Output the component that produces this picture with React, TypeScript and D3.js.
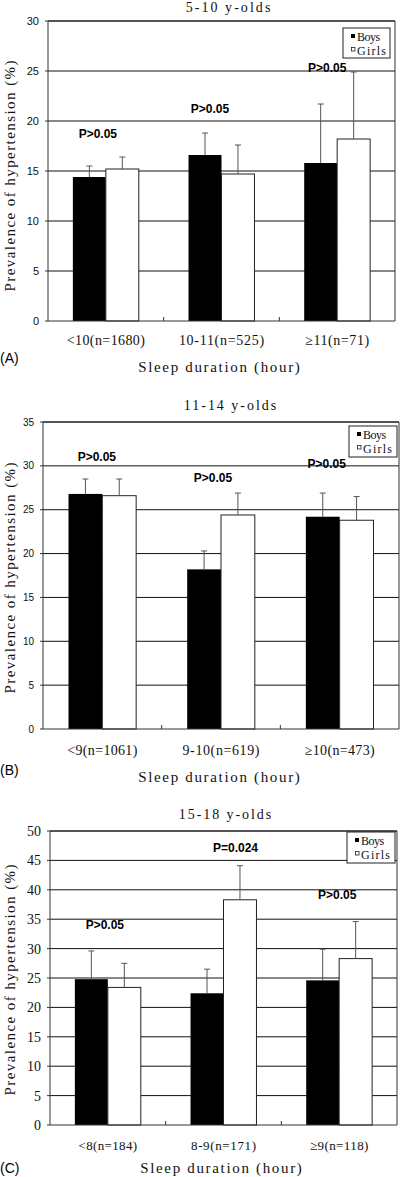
import React from "react";
import * as d3 from "d3";

// ---- Data ----
const titles = ["5-10 y-olds", "11-14 y-olds", "15-18 y-olds"];
const panelLetters = ["(A)", "(B)", "(C)"];
const seriesNames = ["Boys", "Girls"];

const categoriesA = ["<10(n=1680)", "10-11(n=525)", "≥11(n=71)"];
const boysA = [14.4, 16.6, 15.8];
const boysUpperA = [15.5, 18.8, 21.7];
const girlsA = [15.2, 14.7, 18.2];
const girlsUpperA = [16.4, 17.6, 24.9];
const pLabelsA = ["P>0.05", "P>0.05", "P>0.05"];
const yTicksA = [0, 5, 10, 15, 20, 25, 30];

const categoriesB = ["<9(n=1061)", "9-10(n=619)", "≥10(n=473)"];
const boysB = [26.8, 18.2, 24.2];
const boysUpperB = [28.5, 20.3, 26.9];
const girlsB = [26.6, 24.4, 23.8];
const girlsUpperB = [28.5, 26.9, 26.5];
const pLabelsB = ["P>0.05", "P>0.05", "P>0.05"];
const yTicksB = [0, 5, 10, 15, 20, 25, 30, 35];

const categoriesC = ["<8(n=184)", "8-9(n=171)", "≥9(n=118)"];
const boysC = [24.8, 22.4, 24.6];
const boysUpperC = [29.6, 26.5, 29.9];
const girlsC = [23.4, 38.3, 28.3];
const girlsUpperC = [27.5, 44.1, 34.6];
const pLabelsC = ["P>0.05", "P=0.024", "P>0.05"];
const yTicksC = [0, 5, 10, 15, 20, 25, 30, 35, 40, 45, 50];

const yTitle = "Prevalence of hypertension (%)";
const xTitle = "Sleep duration (hour)";

// ---- Layout ----
const SANS = "'Liberation Sans', Arial, sans-serif";
const SERIF = "'Liberation Serif', 'Times New Roman', serif";

type Layout = {
  left: number; right: number; top: number; bottom: number;
  titleX: number; titleY: number;
  tickFont: string; tickSize: number;
  xLabelY: number; xLabelCw: number; xLabelSize: number;
  xTitleY: number; xTitleX: number; letterY: number;
  legend: [number, number, number, number];
  yTitleY: number;
  pPos: [number, number][]; // [dx from category center, value]
};

const layouts: Layout[] = [
  {
    left: 48, right: 395, top: 21, bottom: 321,
    titleX: 228, titleY: 12, tickFont: SANS, tickSize: 11,
    xLabelY: 345, xLabelCw: 7.1, xLabelSize: 14, xTitleY: 372, xTitleX: 219, letterY: 363,
    legend: [343, 28, 47, 30], yTitleY: 176,
    pPos: [[-8, 18.3], [-11.5, 20.8], [-10, 24.9]],
  },
  {
    left: 43, right: 399, top: 422, bottom: 729,
    titleX: 230, titleY: 410, tickFont: SANS, tickSize: 10,
    xLabelY: 755, xLabelCw: 7.0, xLabelSize: 14, xTitleY: 782, xTitleX: 219, letterY: 775,
    legend: [349, 426, 48, 31], yTitleY: 578,
    pPos: [[-5.5, 30.6], [-8, 28.2], [-13, 29.8]],
  },
  {
    left: 50, right: 397, top: 831, bottom: 1125,
    titleX: 225, titleY: 819, tickFont: SERIF, tickSize: 14,
    xLabelY: 1150, xLabelCw: 6.5, xLabelSize: 13, xTitleY: 1173, xTitleX: 221, letterY: 1173,
    legend: [347, 832, 48, 31], yTitleY: 980,
    pPos: [[-3, 33.3], [12, 46.4], [-2, 38.4]],
  },
];

const panelsData = [
  { cats: categoriesA, boys: boysA, boysUp: boysUpperA, girls: girlsA, girlsUp: girlsUpperA, p: pLabelsA, ticks: yTicksA },
  { cats: categoriesB, boys: boysB, boysUp: boysUpperB, girls: girlsB, girlsUp: girlsUpperB, p: pLabelsB, ticks: yTicksB },
  { cats: categoriesC, boys: boysC, boysUp: boysUpperC, girls: girlsC, girlsUp: girlsUpperC, p: pLabelsC, ticks: yTicksC },
];

function MText(props: { x?: number; y?: number; s: string; cw: number; size: number; anchor?: string; transform?: string }) {
  return (
    <text
      x={props.x}
      y={props.y}
      transform={props.transform}
      textAnchor={props.anchor || "middle"}
      fontFamily={SERIF}
      fontSize={props.size}
      fill="#111"
      textLength={props.s.length * props.cw}
      lengthAdjust="spacing"
    >
      {props.s}
    </text>
  );
}

function Panel({ idx }: { idx: number }) {
  const L = layouts[idx];
  const D = panelsData[idx];
  const yMax = D.ticks[D.ticks.length - 1];
  const y = d3.scaleLinear().domain([0, yMax]).range([L.bottom, L.top]);
  const x = d3.scaleBand<string>().domain(D.cats).range([L.left, L.right]).padding(0);
  const bw = x.bandwidth() * 0.285;
  const center = (c: string) => (x(c) as number) + x.bandwidth() / 2;
  const capW = 3;
  const errColor = "#555";

  return (
    <g>
      <MText x={L.titleX} y={L.titleY} s={titles[idx]} cw={7.7} size={14} />
      {D.ticks.filter((t) => t > 0).map((t) => (
        <line key={"g" + t} x1={L.left} x2={L.right} y1={y(t)} y2={y(t)} stroke="#111" strokeWidth={1} />
      ))}
      <line x1={L.right} x2={L.right} y1={L.top} y2={L.bottom} stroke="#333" strokeWidth={1} />
      {D.cats.map((c, i) => {
        const cx = center(c);
        return (
          <g key={c}>
            <rect x={cx - bw} y={y(D.boys[i])} width={bw} height={L.bottom - y(D.boys[i])} fill="#000" />
            <rect x={cx} y={y(D.girls[i])} width={bw} height={L.bottom - y(D.girls[i])} fill="#fff" stroke="#222" strokeWidth={1} />
            <line x1={cx - bw / 2} x2={cx - bw / 2} y1={y(D.boys[i])} y2={y(D.boysUp[i])} stroke={errColor} strokeWidth={1} />
            <line x1={cx - bw / 2 - capW} x2={cx - bw / 2 + capW} y1={y(D.boysUp[i])} y2={y(D.boysUp[i])} stroke={errColor} strokeWidth={1} />
            <line x1={cx + bw / 2} x2={cx + bw / 2} y1={y(D.girls[i])} y2={y(D.girlsUp[i])} stroke={errColor} strokeWidth={1} />
            <line x1={cx + bw / 2 - capW} x2={cx + bw / 2 + capW} y1={y(D.girlsUp[i])} y2={y(D.girlsUp[i])} stroke={errColor} strokeWidth={1} />
            <text x={cx + L.pPos[i][0]} y={y(L.pPos[i][1])} textAnchor="middle" fontFamily={SANS} fontWeight="bold" fontSize={12} fill="#000">
              {D.p[i]}
            </text>
            <MText x={cx} y={L.xLabelY} s={c} cw={L.xLabelCw} size={L.xLabelSize} />
          </g>
        );
      })}
      {D.cats.slice(1).map((c) => (
        <line key={"xt" + c} x1={x(c) as number} x2={x(c) as number} y1={L.bottom} y2={L.bottom - 4} stroke="#333" />
      ))}
      <line x1={L.left} x2={L.right} y1={L.top} y2={L.top} stroke="#222" strokeWidth={1} />
      <line x1={L.left} x2={L.left} y1={L.top} y2={L.bottom} stroke="#333" strokeWidth={1} />
      <line x1={L.left} x2={L.right} y1={L.bottom} y2={L.bottom} stroke="#333" strokeWidth={1} />
      {D.ticks.map((t) => (
        <g key={"yt" + t}>
          <line x1={L.left - 3} x2={L.left} y1={y(t)} y2={y(t)} stroke="#333" />
          <text x={L.left - 9} y={y(t)} dy="0.35em" textAnchor="end" fontFamily={L.tickFont} fontSize={L.tickSize} fill="#111">
            {t}
          </text>
        </g>
      ))}
      <MText transform={`translate(15,${L.yTitleY}) rotate(-90)`} s={yTitle} cw={7.7} size={15} />
      <MText x={L.xTitleX} y={L.xTitleY} s={xTitle} cw={7.7} size={15} />
      <text x={0} y={L.letterY} fontFamily={SANS} fontSize={14} fill="#000">
        {panelLetters[idx]}
      </text>
      <g transform={`translate(${L.legend[0]},${L.legend[1]})`}>
        <rect x={0} y={0} width={L.legend[2]} height={L.legend[3]} fill="#fff" stroke="#222" strokeWidth={1} />
        <rect x={8} y={6} width={4} height={4} fill="#000" />
        <MText x={14} y={13} s={seriesNames[0]} cw={5.8} size={12} anchor="start" />
        <rect x={8.5} y={19.5} width={3.5} height={3.5} fill="#fff" stroke="#222" strokeWidth={0.8} />
        <MText x={14} y={27} s={seriesNames[1]} cw={5.8} size={12} anchor="start" />
      </g>
    </g>
  );
}

export default function App() {
  return (
    <svg width={400} height={1177} style={{ position: "absolute", left: 0, top: 0, background: "#fff" }}>
      <rect x={0} y={0} width={400} height={1177} fill="#fff" />
      {[0, 1, 2].map((i) => (
        <Panel key={i} idx={i} />
      ))}
    </svg>
  );
}
